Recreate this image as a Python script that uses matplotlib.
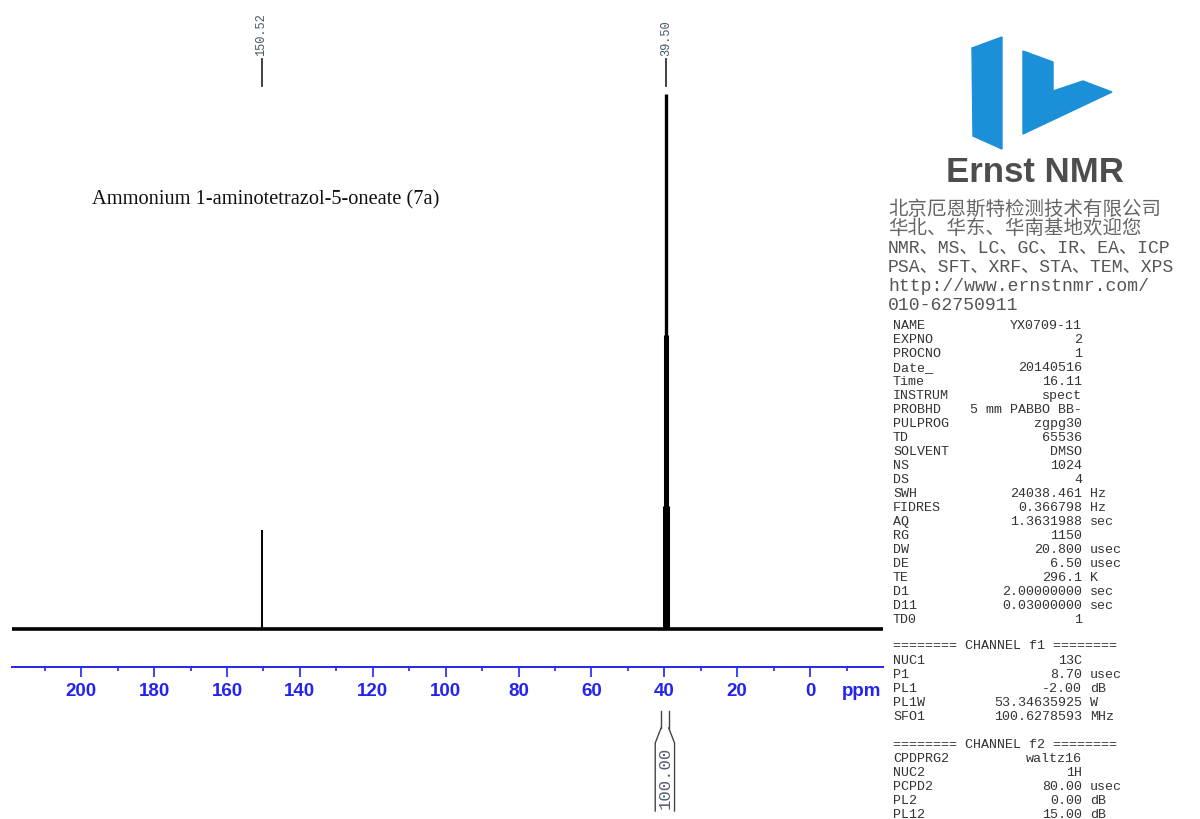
import matplotlib
matplotlib.use("Agg")
import matplotlib.pyplot as plt
import matplotlib.transforms as mtransforms
from matplotlib.patches import Polygon

# spectrum data (ppm / relative intensity)
peak_ppm = [150.52, 39.50, 39.20, 39.80, 38.90, 40.10]
peak_height = [0.185, 1.00, 0.55, 0.55, 0.23, 0.23]
peak_width = [1.4, 2.4, 2.2, 2.2, 2.2, 2.2]
label_ppm = [150.52, 39.50]
label_text = ["150.52", "39.50"]
integral_from = 40.9
integral_to = 38.8
integral_value = "100.00"
xticks_major = [200, 180, 160, 140, 120, 100, 80, 60, 40, 20, 0]
xticks_minor = [210, 190, 170, 150, 130, 110, 90, 70, 50, 30, 10, -10]
x_range = (219, -20)

title = "Ammonium 1-aminotetrazol-5-oneate (7a)"
company_lines = ["北京厄恩斯特检测技术有限公司", "华北、华东、华南基地欢迎您"]
service_lines = ["NMR、MS、LC、GC、IR、EA、ICP", "PSA、SFT、XRF、STA、TEM、XPS",
                 "http://www.ernstnmr.com/", "010-62750911"]

params = [("NAME", "YX0709-11", ""), ("EXPNO", "2", ""), ("PROCNO", "1", ""),
          ("Date_", "20140516", ""), ("Time", "16.11", ""), ("INSTRUM", "spect", ""),
          ("PROBHD", "5 mm PABBO BB-", ""), ("PULPROG", "zgpg30", ""), ("TD", "65536", ""),
          ("SOLVENT", "DMSO", ""), ("NS", "1024", ""), ("DS", "4", ""),
          ("SWH", "24038.461", "Hz"), ("FIDRES", "0.366798", "Hz"), ("AQ", "1.3631988", "sec"),
          ("RG", "1150", ""), ("DW", "20.800", "usec"), ("DE", "6.50", "usec"),
          ("TE", "296.1", "K"), ("D1", "2.00000000", "sec"), ("D11", "0.03000000", "sec"),
          ("TD0", "1", "")]
chan1 = [("NUC1", "13C", ""), ("P1", "8.70", "usec"), ("PL1", "-2.00", "dB"),
         ("PL1W", "53.34635925", "W"), ("SFO1", "100.6278593", "MHz")]
chan2 = [("CPDPRG2", "waltz16", ""), ("NUC2", "1H", ""), ("PCPD2", "80.00", "usec"),
         ("PL2", "0.00", "dB"), ("PL12", "15.00", "dB")]

W, H = 1200, 820
blue = "#2424f0"
fig = plt.figure(figsize=(W / 100, H / 100), dpi=100)
# pixel coordinates, origin top-left
px = mtransforms.Affine2D().scale(1 / W, -1 / H).translate(0, 1) + fig.transFigure

ax = fig.add_axes([12 / W, 1 - 668 / H, (883 - 12) / W, 668 / H])
ax.set_xlim(*x_range)
ax.set_ylim(-0.071, 1.178)
for s in ["top", "left", "right"]:
    ax.spines[s].set_visible(False)
ax.spines["bottom"].set_color(blue)
ax.spines["bottom"].set_linewidth(1.4)
ax.set_yticks([])
ax.set_xticks(xticks_major)
ax.set_xticks(xticks_minor, minor=True)
ax.tick_params(axis="x", which="major", length=7.5, width=1.2, color=blue,
               labelcolor=blue, pad=3.5, labelsize=13.5)
ax.tick_params(axis="x", which="minor", length=3, width=1.2, color=blue)
for lab in ax.get_xticklabels():
    lab.set_fontfamily("Liberation Sans")
    lab.set_fontweight("bold")
ax.text(862, 692, "ppm", transform=px, color=blue, fontsize=13.5, fontweight="bold",
        family="Liberation Sans", ha="center", va="center")

# baseline and peaks
ax.plot(x_range, [0, 0], color="black", lw=2.6, solid_capstyle="butt")
ax.vlines(peak_ppm, 0, peak_height, colors="black", linewidths=peak_width)

# peak labels
lab_tr = mtransforms.blended_transform_factory(ax.transData, px)
for p, t in zip(label_ppm, label_text):
    ax.plot([p, p], [60, 87], color="#333333", lw=1.3, transform=lab_tr, clip_on=False)
    ax.text(p, 56, t, transform=lab_tr, rotation=90, ha="center", va="bottom",
            family="Liberation Mono", fontsize=8.6, color="#445566")

# integral marker
mid = (integral_from + integral_to) / 2
ax.plot([integral_from, integral_from], [712, 729], color="#444444", lw=1, transform=lab_tr, clip_on=False)
ax.plot([integral_to, integral_to], [712, 729], color="#444444", lw=1, transform=lab_tr, clip_on=False)
wide = 1.6
ax.plot([integral_from, integral_from + wide, integral_from + wide], [729, 744, 812],
        color="#444444", lw=1, transform=lab_tr, clip_on=False)
ax.plot([integral_to, integral_to - wide, integral_to - wide], [729, 744, 812],
        color="#444444", lw=1, transform=lab_tr, clip_on=False)
ax.text(mid, 778, integral_value, transform=lab_tr, rotation=90, ha="center", va="center",
        family="Liberation Mono", fontsize=12.5, color="#556070")

fig.text(92, 200, title, transform=px, family="Liberation Serif", fontsize=14.7,
         ha="left", va="center", color="#111111")

# logo
logo_blue = "#1b8fd8"
fig.patches.append(Polygon([(972, 49), (1002, 38), (1002, 150), (973, 137)], closed=True,
                           transform=px, color=logo_blue))
fig.patches.append(Polygon([(1023, 52), (1053, 63), (1053, 92), (1083, 82), (1112, 93), (1023, 135)],
                           closed=True, transform=px, color=logo_blue))
fig.text(1035, 172, "Ernst NMR", transform=px, family="Liberation Sans", fontweight="bold",
         fontsize=25, color="#4d4d4d", ha="center", va="center")

for i, line in enumerate(company_lines):
    fig.text(888, 209 + 19 * i, line, transform=px, family=["Noto Sans CJK SC", "DejaVu Sans"],
             fontsize=14, color="#666666", ha="left", va="center")
for i, line in enumerate(service_lines):
    fig.text(888, 248 + 19.2 * i, line, transform=px, family=["Liberation Mono", "Noto Sans CJK SC"],
             fontsize=13.1, color="#555555", ha="left", va="center")


def param_block(rows, y0):
    for i, (name, val, unit) in enumerate(rows):
        y = y0 + 14 * i
        kw = dict(transform=px, family="Liberation Mono", fontsize=9.6, color="#333333", va="center")
        fig.text(893, y, name, ha="left", **kw)
        fig.text(1082, y, val, ha="right", **kw)
        if unit:
            fig.text(1090, y, unit, ha="left", **kw)


param_block(params, 326)
hdr = dict(transform=px, family="Liberation Mono", fontsize=9.6, color="#333333", va="center", ha="left")
fig.text(893, 646, "======== CHANNEL f1 ========", **hdr)
param_block(chan1, 661)
fig.text(893, 745, "======== CHANNEL f2 ========", **hdr)
param_block(chan2, 759)

fig.savefig("out.png", dpi=100)
